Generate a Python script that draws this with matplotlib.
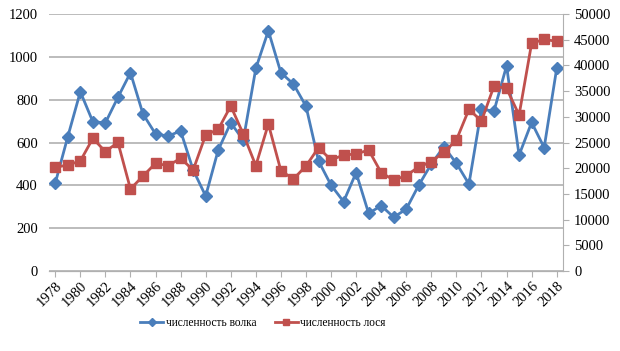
import numpy as np
import matplotlib
matplotlib.use("Agg")
import matplotlib.pyplot as plt

plt.rcParams['font.family'] = ['Liberation Serif', 'DejaVu Serif']

years = list(range(1978, 2019))
wolf = [410, 627, 837, 697, 692, 811, 926, 733, 640, 630, 654, 472, 350,
        565, 692, 611, 946, 1122, 926, 873, 770, 514, 401, 324, 459, 269,
        305, 251, 289, 401, 500, 580, 503, 406, 755, 747, 958, 541, 694,
        576, 946]
moose = [20170, 20620, 21400, 25810, 23220, 25030, 15950, 18480, 20950,
         20490, 21920, 19650, 26460, 27560, 32100, 26650, 20490, 28600,
         19510, 17900, 20430, 23990, 21600, 22570, 22760, 23540, 19130,
         17700, 18540, 20290, 21270, 23090, 25490, 31450, 29180, 35990,
         35540, 30350, 44300, 45080, 44680]
left_ticks = [0, 200, 400, 600, 800, 1000, 1200]
right_ticks = list(range(0, 50001, 5000))
xtick_years = list(range(1978, 2019, 2))

blue = '#4a7ebb'
red = '#c0504d'
grid_c = '#b0b0b0'

fig = plt.figure(figsize=(6.2, 3.51), dpi=100)
ax = fig.add_axes([0.079, 0.228, 0.829, 0.732])
ax2 = ax.twinx()

ax.set_xlim(1977.5, 2018.5)
ax.set_ylim(0, 1200)
ax2.set_ylim(0, 50000)
ax.set_yticks(left_ticks)
ax2.set_yticks(right_ticks)
ax.set_xticks(xtick_years)
ax.set_xticklabels([str(y) for y in xtick_years], rotation=45, ha='right',
                   rotation_mode='anchor', fontsize=10.5)

ax.grid(axis='y', color=grid_c, linewidth=1.2)
ax.set_axisbelow(True)

l1, = ax.plot(years, wolf, color=blue, linewidth=2, marker='D', markersize=6.5,
              label='численность волка', zorder=3)
l2, = ax2.plot(years, moose, color=red, linewidth=2, marker='s', markersize=7.5,
               label='численность лося', zorder=3)

for a in (ax, ax2):
    for s in ('top', 'left'):
        a.spines[s].set_visible(False)
    a.spines['bottom'].set_color(grid_c)
    a.spines['right'].set_color(grid_c)
ax2.spines['right'].set_visible(True)
ax.spines['right'].set_visible(False)

ax.tick_params(axis='y', length=0, labelsize=10.5, pad=8)
ax.tick_params(axis='x', length=4, color=grid_c, labelsize=10.5, pad=2)
ax2.tick_params(axis='y', length=4, color=grid_c, labelsize=10.5, pad=4)

fig.legend([l1, l2], ['численность волка', 'численность лося'],
           loc='center', bbox_to_anchor=(0.424, 0.08), ncol=2, frameon=False,
           fontsize=8.3, handlelength=2.0, columnspacing=1.6,
           handletextpad=0.2, markerscale=0.65)

fig.savefig('out.png', dpi=100)
